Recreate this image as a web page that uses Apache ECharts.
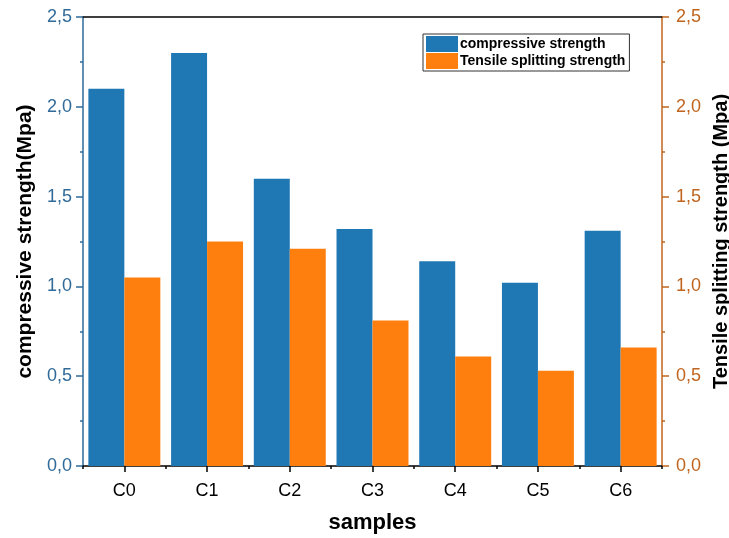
<!DOCTYPE html>
<html>
<head>
<meta charset="utf-8">
<script src="https://cdn.jsdelivr.net/npm/echarts@6/dist/echarts.min.js"></script>
<style>html,body{margin:0;padding:0;background:#fff;overflow:hidden;width:729px;height:538px}#c{width:729px;height:538px}</style>
</head>
<body>
<div id="c"></div>
<script>
var categories = ['C0','C1','C2','C3','C4','C5','C6'];
var compressive = [2.10, 2.30, 1.60, 1.32, 1.14, 1.02, 1.31];
var tensile = [1.05, 1.25, 1.21, 0.81, 0.61, 0.53, 0.66];
var seriesNames = ['compressive strength', 'Tensile splitting strength'];

var FONT = 'Liberation Sans, Arial, sans-serif';
var leftColor = '#2f6a99';
var rightColor = '#c0651f';
var fmt = function (v) { return v.toFixed(1).replace('.', ','); };

var chart = echarts.init(document.getElementById('c'), null, {renderer: 'canvas', width: 729, height: 538});
chart.setOption({
  animation: false,
  backgroundColor: '#fff',
  grid: {left: 83, right: 67, top: 17, bottom: 72, containLabel: false, outerBoundsMode: 'none'},
  legend: {
    data: seriesNames,
    orient: 'vertical',
    left: 423, top: 34,
    itemWidth: 32, itemHeight: 16, itemGap: 1,
    padding: [2, 4, 2, 3],
    borderColor: '#333', borderWidth: 1,
    backgroundColor: '#fff',
    textStyle: {fontFamily: FONT, fontWeight: 'bold', fontSize: 14, color: '#000', padding: [0,0,0,-3]},
    icon: 'rect'
  },
  xAxis: [
    {
      type: 'category', data: categories, position: 'bottom',
      name: 'samples', nameLocation: 'middle', nameGap: 46,
      nameTextStyle: {fontFamily: FONT, fontWeight: 'bold', fontSize: 22, color: '#000'},
      axisLine: {lineStyle: {color: '#000', width: 1.5}},
      axisTick: {show: true, alignWithLabel: false, length: 3, lineStyle: {color: '#000', width: 1.5}},
      axisLabel: {fontFamily: FONT, fontSize: 18, color: '#000', margin: 16},
      splitLine: {show: false}
    },
    {
      type: 'category', data: categories, position: 'bottom',
      axisLine: {show: false},
      axisTick: {show: true, alignWithLabel: true, length: 6, lineStyle: {color: '#000', width: 1.5}},
      axisLabel: {show: false},
      splitLine: {show: false}
    },
    {
      type: 'category', data: categories, position: 'top',
      axisLine: {lineStyle: {color: '#000', width: 1.5}},
      axisTick: {show: false}, axisLabel: {show: false}, splitLine: {show: false}
    }
  ],
  yAxis: [
    {
      type: 'value', min: 0, max: 2.5, interval: 0.5, position: 'left',
      name: 'compressive strength(Mpa)', nameLocation: 'middle', nameGap: 47,
      nameTextStyle: {fontFamily: FONT, fontWeight: 'bold', fontSize: 21, color: '#000'},
      axisLine: {show: true, lineStyle: {color: leftColor, width: 1.5}},
      axisTick: {show: true, inside: false, length: 7, lineStyle: {color: leftColor, width: 1.5}},
      minorTick: {show: true, splitNumber: 2, length: 3, lineStyle: {color: leftColor, width: 1.5}},
      axisLabel: {fontFamily: FONT, fontSize: 18, color: leftColor, margin: 11, formatter: fmt},
      splitLine: {show: false}
    },
    {
      type: 'value', min: 0, max: 2.5, interval: 0.5, position: 'right',
      name: 'Tensile splitting strength (Mpa)', nameLocation: 'middle', nameGap: 43,
      nameRotate: 90,
      nameTextStyle: {fontFamily: FONT, fontWeight: 'bold', fontSize: 20, color: '#000'},
      axisLine: {show: true, lineStyle: {color: rightColor, width: 1.5}},
      axisTick: {show: true, inside: false, length: 7, lineStyle: {color: rightColor, width: 1.5}},
      minorTick: {show: true, splitNumber: 2, length: 3, lineStyle: {color: rightColor, width: 1.5}},
      axisLabel: {fontFamily: FONT, fontSize: 18, color: rightColor, margin: 14, formatter: fmt},
      splitLine: {show: false}
    }
  ],
  series: [
    {
      name: seriesNames[0], type: 'bar', data: compressive, xAxisIndex: 0, yAxisIndex: 0,
      barGap: '0%', barCategoryGap: '13%',
      itemStyle: {color: '#1f77b4'}
    },
    {
      name: seriesNames[1], type: 'bar', data: tensile, xAxisIndex: 0, yAxisIndex: 1,
      barGap: '0%', barCategoryGap: '13%',
      itemStyle: {color: '#ff7f0e'}
    }
  ]
});
</script>
</body>
</html>
